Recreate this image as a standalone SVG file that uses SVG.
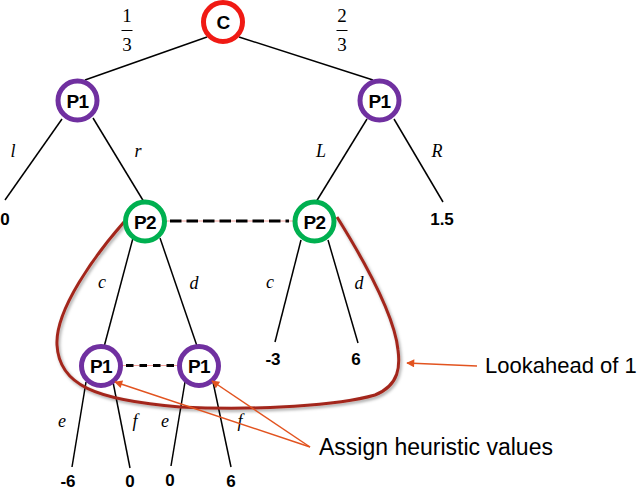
<svg xmlns="http://www.w3.org/2000/svg" width="640" height="491" viewBox="0 0 640 491">
<defs>
<style>
.edge{stroke:#000;stroke-width:1.5;fill:none}
.dash{stroke:#000;stroke-width:3;fill:none}
.dashbg{stroke:#F2A09A;stroke-width:1;fill:none}
.node circle{fill:#fff;stroke-width:5}
.red circle{stroke:#F01A14}
.purple circle{stroke:#7030A0}
.green circle{stroke:#00B050}
.nl{font-family:"Liberation Sans",Arial,sans-serif;font-size:19px;font-weight:bold;letter-spacing:-0.5px;text-anchor:middle;fill:#000}
.val{font-family:"Liberation Sans",Arial,sans-serif;font-size:17px;font-weight:bold;text-anchor:middle;fill:#000}
.lab{font-family:"Liberation Serif","Times New Roman",serif;font-size:18px;font-style:italic;text-anchor:middle;fill:#000}
.frac{font-family:"Liberation Serif","Times New Roman",serif;font-size:19px;text-anchor:middle;fill:#000}
.note{font-family:"Liberation Sans",Arial,sans-serif;font-size:23px;fill:#000}
.arr{stroke:#E2531F;stroke-width:1.5;fill:none;marker-end:url(#ah)}
</style>
<marker id="ah" viewBox="0 0 10 10" refX="9" refY="5" markerWidth="9" markerHeight="8" markerUnits="userSpaceOnUse" orient="auto">
<path d="M0,0 L10,5 L0,10 Z" fill="#E2531F"/>
</marker>
<filter id="sh" x="-10%" y="-10%" width="120%" height="130%">
<feDropShadow dx="1.5" dy="2" stdDeviation="1.5" flood-color="#000" flood-opacity="0.35"/>
</filter>
</defs>
<rect width="640" height="491" fill="#fff"/>

<g id="connectors">
<line class="edge" x1="207" y1="37" x2="85" y2="80"/>
<line class="edge" x1="239" y1="37" x2="373" y2="80"/>
<line class="edge" x1="62" y1="119" x2="5" y2="200"/>
<line class="edge" x1="93" y1="118" x2="144" y2="202"/>
<line class="edge" x1="367" y1="119" x2="316" y2="202"/>
<line class="edge" x1="394" y1="119" x2="443" y2="202"/>
<line class="edge" x1="133" y1="238" x2="104" y2="347"/>
<line class="edge" x1="160" y1="238" x2="197" y2="346"/>
<line class="edge" x1="301" y1="240" x2="275" y2="342"/>
<line class="edge" x1="328" y1="240" x2="358" y2="343"/>
<line class="edge" x1="86" y1="382" x2="72" y2="467"/>
<line class="edge" x1="113" y1="382" x2="130" y2="468"/>
<line class="edge" x1="185" y1="382" x2="171" y2="466"/>
<line class="edge" x1="213" y1="382" x2="231" y2="467"/>
<line class="dashbg" x1="167" y1="221" x2="293" y2="221"/>
<line class="dash" x1="170" y1="221" x2="289" y2="221" stroke-dasharray="11.5 5"/>
<line class="dashbg" x1="121" y1="365.5" x2="180" y2="365.5"/>
<line class="dash" x1="126" y1="365.5" x2="177" y2="365.5" stroke-dasharray="7.5 6"/>
</g>

<g id="edge-labels">
<text class="frac" x="127" y="22">1</text>
<line x1="121.5" y1="30.5" x2="132.5" y2="30.5" stroke="#000" stroke-width="1"/>
<text class="frac" x="127" y="51">3</text>
<text class="frac" x="342" y="22">2</text>
<line x1="336.5" y1="30.5" x2="347.5" y2="30.5" stroke="#000" stroke-width="1"/>
<text class="frac" x="342" y="51">3</text>
<text class="lab" x="13" y="157">l</text>
<text class="lab" x="138" y="157">r</text>
<text class="lab" x="321" y="157">L</text>
<text class="lab" x="437" y="157">R</text>
<text class="lab" x="102" y="288">c</text>
<text class="lab" x="194" y="289">d</text>
<text class="lab" x="270" y="288">c</text>
<text class="lab" x="359" y="289">d</text>
<text class="lab" x="62" y="427">e</text>
<text class="lab" x="135" y="427">f</text>
<text class="lab" x="165" y="427">e</text>
<text class="lab" x="240" y="427">f</text>
</g>

<g id="values">
<text class="val" x="5" y="225">0</text>
<text class="val" x="442" y="225">1.5</text>
<text class="val" x="273" y="365">-3</text>
<text class="val" x="356" y="365">6</text>
<text class="val" x="68" y="487">-6</text>
<text class="val" x="130" y="487">0</text>
<text class="val" x="170" y="486">0</text>
<text class="val" x="231" y="487">6</text>
</g>

<g id="lookahead-region">
<path d="M124,222 C95,255 55,310 57,345 C59,385 95,400 180,407 C260,411 340,405 375,395 C400,385 400,365 398,350 C395,320 370,270 337,217" fill="none" stroke="#A3281D" stroke-width="3" filter="url(#sh)"/>
</g>

<g id="node-C" class="node red"><circle cx="223" cy="22" r="19.5"/><text class="nl" x="223" y="28.5">C</text></g>
<g id="node-P1-left" class="node purple"><circle cx="77.5" cy="100.5" r="19.5"/><text class="nl" x="77.5" y="107.5">P1</text></g>
<g id="node-P1-right" class="node purple"><circle cx="379.5" cy="100.5" r="19.5"/><text class="nl" x="379.5" y="107.5">P1</text></g>
<g id="node-P2-left" class="node green"><circle cx="145" cy="221.5" r="19.5"/><text class="nl" x="145" y="228.5">P2</text></g>
<g id="node-P2-right" class="node green"><circle cx="314.5" cy="221.5" r="19.5"/><text class="nl" x="314.5" y="228.5">P2</text></g>
<g id="node-P1-low-left" class="node purple"><circle cx="101" cy="366" r="19.5"/><text class="nl" x="101" y="373">P1</text></g>
<g id="node-P1-low-right" class="node purple"><circle cx="199" cy="366" r="19.5"/><text class="nl" x="199" y="373">P1</text></g>

<g id="annotations">
<line class="arr" x1="477" y1="366" x2="407" y2="363"/>
<line class="arr" x1="310" y1="447" x2="115" y2="382"/>
<line class="arr" x1="310" y1="447" x2="212" y2="381"/>
<text class="note" x="485" y="373" style="font-size:22px">Lookahead of 1</text>
<text class="note" x="319" y="455">Assign heuristic values</text>
</g>
</svg>
